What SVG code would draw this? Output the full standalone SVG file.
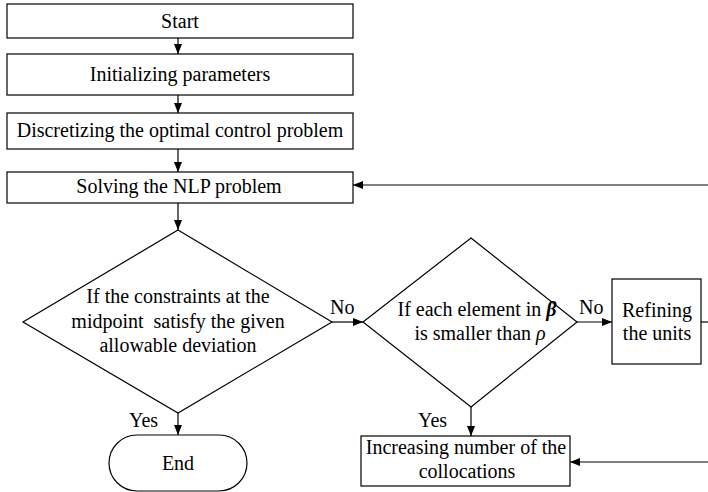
<svg xmlns="http://www.w3.org/2000/svg" width="708" height="492" viewBox="0 0 708 492">
<defs>
<style>
.box{fill:#fff;stroke:#000;stroke-width:1.2}
.c{fill:none;stroke:#000;stroke-width:1.2}
</style>
<marker id="ah" markerWidth="10" markerHeight="8" refX="10" refY="4" orient="auto" markerUnits="userSpaceOnUse">
<path d="M0,0 L10,4 L0,8 Z" fill="#000"/>
</marker>
</defs>
<rect width="708" height="492" fill="#fff"/>
<g font-family="Liberation Serif, Times New Roman, serif" font-size="20" fill="#000">
<g id="start" text-anchor="middle"><rect class="box" x="7" y="4" width="346" height="34"/><text x="180" y="28">Start</text></g>
<g id="init" text-anchor="middle"><rect class="box" x="7" y="54" width="346" height="41"/><text x="180" y="81">Initializing parameters</text></g>
<g id="disc" text-anchor="middle"><rect class="box" x="7" y="113" width="346" height="36"/><text x="180" y="137">Discretizing the optimal control problem</text></g>
<g id="solve" text-anchor="middle"><rect class="box" x="7" y="172" width="346" height="31"/><text x="179" y="193">Solving the NLP problem</text></g>
<g id="cond1" text-anchor="middle"><polygon class="box" points="178,230 332,322 178,413 23,322"/>
<text x="178" y="303">If the constraints at the</text>
<text x="178" y="328" xml:space="preserve">midpoint  satisfy the given</text>
<text x="178" y="352">allowable deviation</text></g>
<g id="cond2" text-anchor="middle"><polygon class="box" points="471,238 577,322 471,407 363,322"/>
<text x="477" y="316">If each element in<tspan font-weight="bold" font-style="italic"> β</tspan></text>
<text x="480" y="340">is smaller than <tspan font-style="italic">ρ</tspan></text></g>
<g id="refine" text-anchor="middle"><rect class="box" x="612" y="279" width="89" height="85"/>
<text x="657" y="317">Refining</text><text x="657" y="340">the units</text></g>
<g id="increase" text-anchor="middle"><rect class="box" x="361" y="436" width="209" height="50"/>
<text x="466" y="454">Increasing number of the</text><text x="467" y="478">collocations</text></g>
<g id="end" text-anchor="middle"><rect class="box" x="109" y="435" width="138" height="56" rx="28" ry="28"/><text x="178" y="470">End</text></g>
<g id="connectors">
<line class="c" x1="178" y1="38" x2="178" y2="54" marker-end="url(#ah)"/>
<line class="c" x1="178" y1="95" x2="178" y2="113" marker-end="url(#ah)"/>
<line class="c" x1="178" y1="149" x2="178" y2="172" marker-end="url(#ah)"/>
<line class="c" x1="178" y1="203" x2="178" y2="230" marker-end="url(#ah)"/>
<line class="c" x1="332" y1="322" x2="363" y2="322" marker-end="url(#ah)"/>
<line class="c" x1="178" y1="413" x2="178" y2="435" marker-end="url(#ah)"/>
<line class="c" x1="577" y1="322" x2="612" y2="322" marker-end="url(#ah)"/>
<line class="c" x1="471" y1="407" x2="471" y2="436" marker-end="url(#ah)"/>
<line class="c" x1="701" y1="322" x2="708" y2="322"/>
<line class="c" x1="708" y1="185" x2="353" y2="185" marker-end="url(#ah)"/>
<line class="c" x1="708" y1="462" x2="570" y2="462" marker-end="url(#ah)"/>
<text x="330" y="314">No</text>
<text x="579" y="314">No</text>
<text x="129" y="427">Yes</text>
<text x="418" y="427">Yes</text>
</g>
</g>
</svg>
